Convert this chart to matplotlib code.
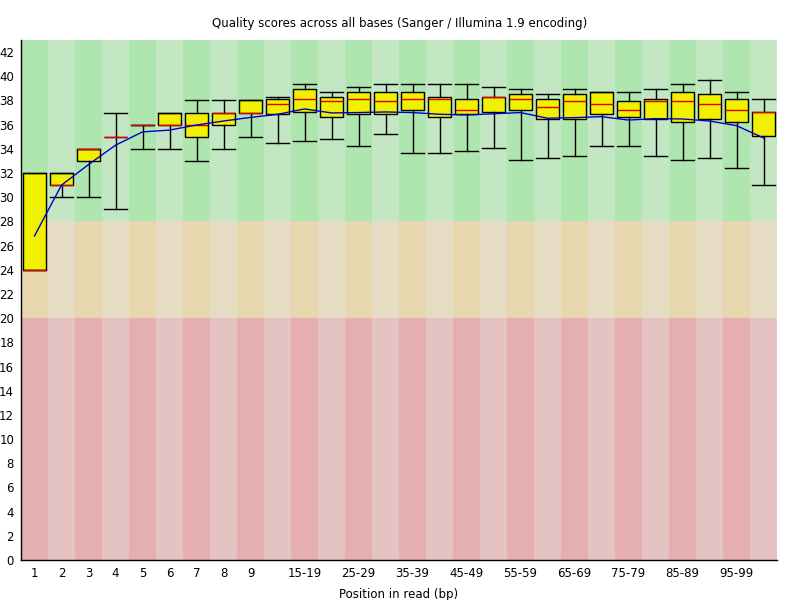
import matplotlib
matplotlib.use("Agg")
import matplotlib.pyplot as plt

categories = ["1", "2", "3", "4", "5", "6", "7", "8", "9",
              "10-14", "15-19", "20-24", "25-29", "30-34", "35-39", "40-44",
              "45-49", "50-54", "55-59", "60-64", "65-69", "70-74", "75-79",
              "80-84", "85-89", "90-94", "95-99", "100"]
shown_labels = ["1", "2", "3", "4", "5", "6", "7", "8", "9",
                "", "15-19", "", "25-29", "", "35-39", "",
                "45-49", "", "55-59", "", "65-69", "", "75-79",
                "", "85-89", "", "95-99", ""]

whisker_high = [32, 32, 34, 37, 36, 37, 38, 38, 38,
                38.25, 39.33, 38.67, 39.08, 39.33, 39.33, 39.33,
                39.33, 39.08, 38.92, 38.5, 38.92, 38.67, 38.67,
                38.92, 39.33, 39.67, 38.67, 38.08]
upper_quartile = [32, 32, 34, 35, 36, 37, 37, 37, 38,
                  38.08, 38.92, 38.25, 38.67, 38.67, 38.67, 38.25,
                  38.08, 38.25, 38.5, 38.08, 38.5, 38.67, 37.92,
                  38.08, 38.67, 38.5, 38.08, 37.08]
median = [24, 31, 34, 35, 36, 36, 36, 37, 37,
          37.67, 38.08, 37.92, 38.08, 37.92, 38.08, 38.08,
          37.25, 38.25, 38.08, 37.5, 37.92, 37.67, 37.25,
          37.92, 37.92, 37.67, 37.25, 37.08]
lower_quartile = [24, 31, 33, 35, 36, 36, 35, 36, 37,
                  36.92, 37.08, 36.67, 36.92, 36.92, 37.25, 36.67,
                  36.92, 37.08, 37.25, 36.5, 36.5, 36.92, 36.67,
                  36.5, 36.25, 36.5, 36.25, 35.08]
whisker_low = [24, 30, 30, 29, 34, 34, 33, 34, 35,
               34.5, 34.67, 34.83, 34.25, 35.25, 33.67, 33.67,
               33.83, 34.08, 33.08, 33.25, 33.42, 34.25, 34.25,
               33.42, 33.08, 33.25, 32.42, 31.0]
mean_quality = [26.8, 31.0, 32.7, 34.3, 35.4, 35.55, 35.97, 36.3, 36.6,
                36.85, 37.3, 36.97, 37.0, 37.05, 37.0, 36.86,
                36.8, 36.9, 37.0, 36.53, 36.58, 36.66, 36.38,
                36.5, 36.47, 36.3, 35.92, 34.9]

zone_bounds = [0, 20, 28, 43]
zone_colors = [("#e6afaf", "#e6c3c3"),   # bad (dark, light)
               ("#e6d7af", "#e6dcc3"),   # ok
               ("#afe6af", "#c3e6c3")]   # good

fig = plt.figure(figsize=(8, 6), dpi=100)
ax = fig.add_axes([21 / 800, 40 / 600, 756 / 800, 520 / 600])

n = len(categories)
xs = list(range(n))

# background stripes
for z in range(3):
    lo, hi = zone_bounds[z], zone_bounds[z + 1]
    dark, light = zone_colors[z]
    cols = [dark if i % 2 == 0 else light for i in xs]
    ax.bar(xs, [hi - lo] * n, bottom=lo, width=1.0, color=cols,
           linewidth=0, zorder=0)

stats = []
for i in xs:
    stats.append(dict(med=median[i], q1=lower_quartile[i], q3=upper_quartile[i],
                      whislo=whisker_low[i], whishi=whisker_high[i], fliers=[]))

bp = ax.bxp(stats, positions=xs, widths=0.85, capwidths=0.85, patch_artist=True,
            showfliers=False, manage_ticks=False,
            boxprops=dict(facecolor="#f0f000", edgecolor="black", linewidth=1.0),
            medianprops=dict(color="#dd0000", linewidth=1.0),
            whiskerprops=dict(color="black", linewidth=1.0),
            capprops=dict(color="black", linewidth=1.0), zorder=2)
for m in bp["medians"]:
    m.set_zorder(3)

ax.plot(xs, mean_quality, color="#0000c8", linewidth=1.0, zorder=4)

ax.set_xlim(-0.5, n - 0.5)
ax.set_ylim(0, 43)
ax.set_yticks(range(0, 43, 2))
ax.set_xticks(xs)
ax.set_xticklabels(shown_labels)
ax.tick_params(axis="both", length=0, labelsize=8.5, colors="black")
ax.tick_params(axis="y", pad=5)
ax.tick_params(axis="x", pad=5)
for s in ("top", "right"):
    ax.spines[s].set_visible(False)
ax.spines["left"].set_linewidth(1.0)
ax.spines["bottom"].set_linewidth(1.0)

ax.set_xlabel("Position in read (bp)", fontsize=8.5, labelpad=6)
fig.text(0.5, 1 - 23 / 600, "Quality scores across all bases (Sanger / Illumina 1.9 encoding)",
         ha="center", va="center", fontsize=8.5)

fig.savefig("out.png", dpi=100, facecolor="white")
